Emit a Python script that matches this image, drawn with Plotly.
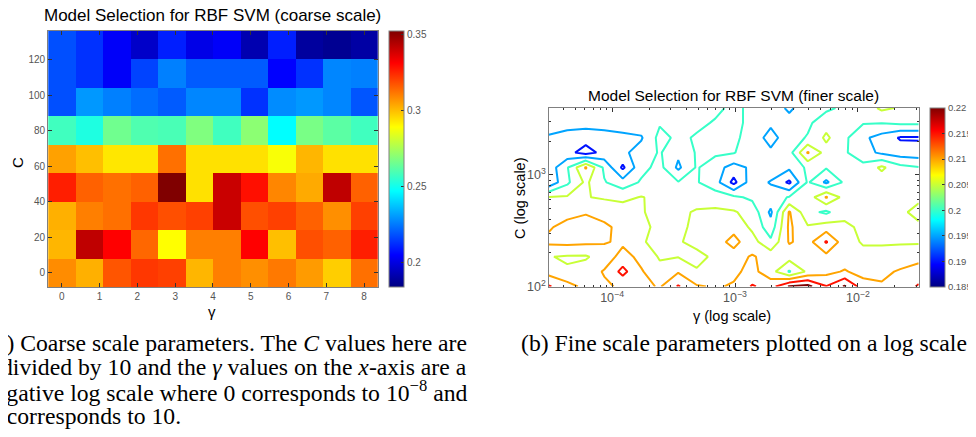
import math
import plotly.graph_objects as go

W, H = 976, 437
OFF = 8  # the page body adds an 8px margin; the figure is shifted by it
FW, FH = W - OFF, H - OFF

# ---------------- coarse-scale data (heatmap) ----------------
gamma_coarse = [0, 0.727, 1.455, 2.182, 2.909, 3.636, 4.364, 5.091, 5.818, 6.545, 7.273, 8.0]
C_coarse = [0, 16, 32, 48, 64, 80, 96, 112, 128]
err_coarse = [
    [0.308, 0.302, 0.317, 0.322, 0.3205, 0.301, 0.310, 0.3075, 0.311, 0.3055, 0.297, 0.3125],
    [0.301, 0.3415, 0.331, 0.314, 0.289, 0.310, 0.310, 0.331, 0.2995, 0.318, 0.315, 0.326],
    [0.302, 0.310, 0.3125, 0.322, 0.318, 0.3205, 0.340, 0.318, 0.3205, 0.315, 0.3075, 0.3205],
    [0.326, 0.315, 0.3125, 0.315, 0.352, 0.294, 0.340, 0.3285, 0.309, 0.303, 0.3415, 0.315],
    [0.3045, 0.2995, 0.293, 0.293, 0.3125, 0.294, 0.294, 0.294, 0.288, 0.301, 0.294, 0.294],
    [0.2575, 0.252, 0.2655, 0.260, 0.259, 0.268, 0.2575, 0.270, 0.247, 0.267, 0.262, 0.2575],
    [0.218, 0.230, 0.226, 0.223, 0.220, 0.227, 0.227, 0.213, 0.228, 0.230, 0.227, 0.219],
    [0.218, 0.213, 0.204, 0.216, 0.226, 0.220, 0.220, 0.220, 0.205, 0.213, 0.227, 0.226],
    [0.218, 0.213, 0.204, 0.196, 0.210, 0.201, 0.204, 0.192, 0.210, 0.189, 0.187, 0.190],
]
coarse_ticks_x = [0, 1, 2, 3, 4, 5, 6, 7, 8]
coarse_ticks_y = [0, 20, 40, 60, 80, 100, 120]
coarse_cbar_vals = [0.2, 0.25, 0.3, 0.35]
coarse_cbar_text = ["0.2", "0.25", "0.3", "0.35"]

# ---------------- fine-scale data (contour) ----------------
gamma_fine_log2 = [-15, -14.5, -14, -13.5, -13, -12.5, -12, -11.5, -11, -10.5, -10,
                   -9.5, -9, -8.5, -8, -7.5, -7, -6.5, -6, -5.5, -5]
C_fine = [100, 136, 185, 251, 341, 464, 631, 858, 1166, 1585, 2154, 2929, 3981]
err_fine = [
    [0.2155, 0.212, 0.2085, 0.209, 0.211, 0.2115, 0.2095, 0.2155, 0.2105, 0.2095, 0.2105, 0.2155, 0.213, 0.2205, 0.2215, 0.2152, 0.2205, 0.2125, 0.2105, 0.2125, 0.2155],
    [0.208, 0.2055, 0.207, 0.2105, 0.2165, 0.2105, 0.2065, 0.2095, 0.2055, 0.207, 0.209, 0.2115, 0.207, 0.1995, 0.206, 0.2085, 0.2105, 0.208, 0.209, 0.2105, 0.2125],
    [0.2052, 0.2045, 0.2045, 0.207, 0.212, 0.2085, 0.2045, 0.2048, 0.2035, 0.206, 0.208, 0.2105, 0.208, 0.207, 0.207, 0.2085, 0.207, 0.2065, 0.2065, 0.2075, 0.208],
    [0.211, 0.2115, 0.211, 0.2105, 0.209, 0.2055, 0.2035, 0.2045, 0.2065, 0.208, 0.2115, 0.207, 0.201, 0.2105, 0.208, 0.2155, 0.207, 0.2045, 0.2045, 0.2045, 0.2045],
    [0.2095, 0.2115, 0.2125, 0.211, 0.2085, 0.2065, 0.2035, 0.204, 0.206, 0.207, 0.2085, 0.204, 0.197, 0.211, 0.2055, 0.2075, 0.206, 0.204, 0.2035, 0.2035, 0.204],
    [0.207, 0.2085, 0.2095, 0.208, 0.207, 0.2055, 0.203, 0.204, 0.2055, 0.206, 0.2055, 0.203, 0.194, 0.2105, 0.2015, 0.199, 0.2035, 0.203, 0.2035, 0.204, 0.2065],
    [0.2053, 0.2055, 0.2052, 0.2045, 0.204, 0.2052, 0.204, 0.2035, 0.203, 0.2025, 0.201, 0.199, 0.198, 0.2003, 0.202, 0.2105, 0.203, 0.203, 0.2025, 0.203, 0.204],
    [0.191, 0.199, 0.206, 0.2004, 0.197, 0.2006, 0.2005, 0.2003, 0.2004, 0.197, 0.1885, 0.198, 0.1945, 0.189, 0.2006, 0.194, 0.201, 0.203, 0.202, 0.201, 0.2004],
    [0.192, 0.1996, 0.2105, 0.199, 0.189, 0.1985, 0.2015, 0.194, 0.2005, 0.197, 0.193, 0.196, 0.199, 0.196, 0.201, 0.2004, 0.2015, 0.2015, 0.206, 0.2015, 0.2003],
    [0.194, 0.1915, 0.188, 0.1915, 0.194, 0.197, 0.2005, 0.196, 0.2005, 0.201, 0.2003, 0.197, 0.196, 0.198, 0.2105, 0.203, 0.2006, 0.197, 0.194, 0.1925, 0.192],
    [0.1945, 0.193, 0.192, 0.193, 0.194, 0.1945, 0.2015, 0.199, 0.2005, 0.201, 0.201, 0.198, 0.193, 0.198, 0.2004, 0.206, 0.201, 0.196, 0.193, 0.1895, 0.1895],
    [0.197, 0.197, 0.197, 0.197, 0.197, 0.198, 0.1995, 0.199, 0.199, 0.2004, 0.201, 0.199, 0.196, 0.197, 0.199, 0.203, 0.201, 0.2003, 0.2002, 0.201, 0.201],
    [0.198, 0.198, 0.198, 0.198, 0.198, 0.198, 0.199, 0.199, 0.199, 0.199, 0.201, 0.199, 0.198, 0.194, 0.198, 0.199, 0.201, 0.202, 0.206, 0.2045, 0.203],
]
contour_levels = [0.19, 0.195, 0.2, 0.205, 0.21, 0.215, 0.22]
fine_cbar_vals = [0.185, 0.19, 0.195, 0.2, 0.205, 0.21, 0.215, 0.22]
fine_cbar_text = ["0.185", "0.19", "0.195", "0.2", "0.205", "0.21", "0.215", "0.22"]

gamma_fine = [2.0 ** e for e in gamma_fine_log2]

# ---------------- styling helpers ----------------
JET = [[0, "rgb(0,0,128)"], [0.125, "rgb(0,0,255)"], [0.375, "rgb(0,255,255)"],
       [0.625, "rgb(255,255,0)"], [0.875, "rgb(255,0,0)"], [1, "rgb(128,0,0)"]]


def jet_rgb(f):
    def c(v):
        return max(0.0, min(1.0, v))
    r = c(min(4 * f - 1.5, -4 * f + 4.5))
    g = c(min(4 * f - 0.5, -4 * f + 3.5))
    b = c(min(4 * f + 0.5, -4 * f + 2.5))
    return "rgb(%d,%d,%d)" % (round(r * 255), round(g * 255), round(b * 255))


FMIN, FMAX = 0.185, 0.22
n_lv = len(contour_levels)
contour_cs = [[k / (n_lv - 1), jet_rgb((lv - FMIN) / (FMAX - FMIN))]
              for k, lv in enumerate(contour_levels)]


def px(x):
    return (x - OFF) / FW


def py(y):
    return 1 - (y - OFF) / FH


SANS = "Liberation Sans"
SERIF = "Liberation Serif"
AX = "#808080"
TK = "#555555"

fig = go.Figure()

fig.add_trace(go.Heatmap(
    x=gamma_coarse, y=C_coarse, z=err_coarse,
    xaxis="x", yaxis="y",
    colorscale=JET, zmin=0.184, zmax=0.352,
    colorbar=dict(
        x=px(391), xanchor="left", xpad=0, y=py(31), yanchor="top", ypad=0,
        len=256, lenmode="pixels", thickness=15, thicknessmode="pixels",
        outlinecolor=AX, outlinewidth=1,
        tickmode="array", tickvals=coarse_cbar_vals, ticktext=coarse_cbar_text,
        ticks="inside", ticklen=3, tickcolor="#333",
        tickfont=dict(family=SANS, size=10, color=TK),
    ),
))

fig.add_trace(go.Contour(
    x=gamma_fine, y=C_fine, z=err_fine,
    xaxis="x2", yaxis="y2",
    autocontour=False,
    contours=dict(start=contour_levels[0], end=contour_levels[-1] + 0.0001,
                  size=0.005, coloring="lines", showlabels=False),
    colorscale=contour_cs, showscale=False,
    line=dict(width=2, smoothing=0),
))

# colour key for the contour panel (continuous, like the reference)
fig.add_trace(go.Scatter(
    x=[gamma_fine[0]], y=[C_fine[0]], xaxis="x2", yaxis="y2",
    mode="markers", hoverinfo="skip", showlegend=False,
    marker=dict(size=1, opacity=0, color=[FMIN], cmin=FMIN, cmax=FMAX,
                colorscale=JET, showscale=True,
                colorbar=dict(
                    x=px(934), xanchor="left", xpad=0, y=py(108), yanchor="top", ypad=0,
                    len=179, lenmode="pixels", thickness=15, thicknessmode="pixels",
                    outlinecolor=AX, outlinewidth=1,
                    tickmode="array", tickvals=fine_cbar_vals, ticktext=fine_cbar_text,
                    ticks="inside", ticklen=3, tickcolor="#333",
                    tickfont=dict(family=SANS, size=9.5, color=TK),
                )),
))

axis_common = dict(showgrid=False, zeroline=False, showline=True, linecolor=AX,
                   linewidth=1, mirror="ticks", ticks="inside", ticklen=4,
                   tickcolor="#333", tickfont=dict(family=SANS, size=10, color=TK),
                   automargin=False)

fig.update_layout(
    width=FW, height=FH, autosize=False,
    margin=dict(l=0, r=0, t=0, b=0),
    paper_bgcolor="white", plot_bgcolor="white",
    showlegend=False,
    xaxis=dict(domain=[px(48.3), px(379.3)], range=[-0.3636, 8.3636],
               tickmode="array", tickvals=coarse_ticks_x, anchor="y", **axis_common),
    yaxis=dict(domain=[py(287), py(31)], range=[-8, 136],
               tickmode="array", tickvals=coarse_ticks_y, anchor="x", **axis_common),
    xaxis2=dict(domain=[px(551), px(922.5)], type="log",
                range=[math.log10(gamma_fine[0]), math.log10(gamma_fine[-1])],
                dtick=1, exponentformat="power", anchor="y2",
                minor=dict(ticks="inside", ticklen=2, tickcolor="#333", dtick="D1"),
                **axis_common),
    yaxis2=dict(domain=[py(286.5), py(108)], type="log", range=[2, 3.6],
                dtick=1, exponentformat="power", anchor="x2",
                minor=dict(ticks="inside", ticklen=2, tickcolor="#333", dtick="D1"),
                **axis_common),
)

ann = []


def add(text, x, y, size, family=SANS, xanchor="center", angle=0, color="black"):
    ann.append(dict(text=text, x=px(x), y=py(y), xref="paper", yref="paper",
                    showarrow=False, xanchor=xanchor, yanchor="middle",
                    textangle=angle, font=dict(family=family, size=size, color=color)))


add("Model Selection for RBF SVM (coarse scale)", 213, 15, 17)
add("Model Selection for RBF SVM (finer scale)", 737, 95, 15.5)
add("C", 17, 162, 15, angle=-90)
add("γ", 213, 311, 15)
add("C (log scale)", 522, 198, 14.5, angle=-90)
add("γ (log scale)", 735, 316, 14.5)

add("(a) Coarse scale parameters. The <i>C</i> values here are", 471, 343, 23.7, SERIF, "right")
add("divided by 10 and the <i>γ</i> values on the <i>x</i>-axis are a", 471, 367, 23.7, SERIF, "right")
add("negative log scale where 0 corresponds to 10<sup>−8</sup> and", 471, 391, 23.7, SERIF, "right")
add("8 corresponds to 10.", -13, 416, 23.7, SERIF, "left")
add("(b) Fine scale parameters plotted on a log scale", 747, 343, 23.7, SERIF)

fig.update_layout(annotations=ann)

fig.write_html("out.html")
